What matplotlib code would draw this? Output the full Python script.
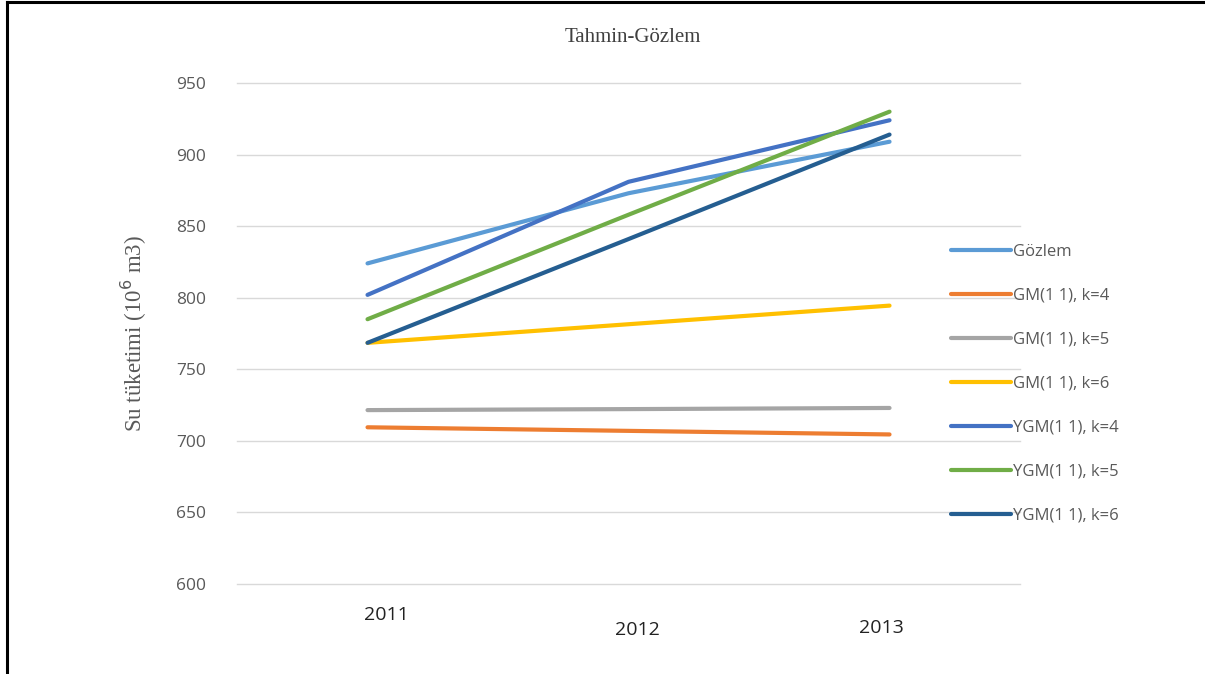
import matplotlib
matplotlib.use("Agg")
import matplotlib.pyplot as plt
from matplotlib.lines import Line2D

years = ["2011", "2012", "2013"]
series_names = ["Gözlem", "GM(1 1), k=4", "GM(1 1), k=5", "GM(1 1), k=6",
                "YGM(1 1), k=4", "YGM(1 1), k=5", "YGM(1 1), k=6"]
gozlem = [824, 873, 909]
gm_k4 = [709.5, 707, 704.5]
gm_k5 = [721.5, 722.2, 723]
gm_k6 = [768.5, 781.5, 794.5]
ygm_k4 = [802, 881, 924]
ygm_k5 = [785, 858, 930]
ygm_k6 = [768.5, 841, 914]
colors = ["#5B9BD5", "#ED7D31", "#A5A5A5", "#FFC000", "#4472C4", "#70AD47", "#255E91"]
yticks = [600, 650, 700, 750, 800, 850, 900, 950]

W, H = 1205, 674
fig = plt.figure(figsize=(W / 100, H / 100), dpi=100)
ax = fig.add_axes([0.1967, 0.1335, 0.6498, 0.7433])

x = range(len(years))
all_series = [gozlem, gm_k4, gm_k5, gm_k6, ygm_k4, ygm_k5, ygm_k6]
for vals, c, name in zip(all_series, colors, series_names):
    ax.plot(x, vals, color=c, lw=3.0, solid_capstyle="round", label=name, zorder=3)

ax.set_xlim(-0.5, 2.5)
ax.set_ylim(600, 950)
ax.set_yticks(yticks)
ax.set_yticklabels([str(v) for v in yticks], fontfamily="Open Sans", fontsize=12.5, color="#595959")
ax.grid(axis="y", color="#D9D9D9", lw=1.0, zorder=0)
for gl in ax.get_ygridlines():
    gl.set_clip_on(False)
for s in ax.spines.values():
    s.set_visible(False)
ax.tick_params(axis="both", length=0)
ax.tick_params(axis="y", pad=22)
ax.set_xticks([])

# category labels, slightly off-line as in the source (pixel positions)
label_px = [(386, 615), (637, 630), (881, 628)]
for lab, (px, py) in zip(years, label_px):
    fig.text(px / W, 1 - py / H, lab, fontsize=14, family="Open Sans",
             color="#222222", ha="center", va="center")

ax.set_ylabel("Su tüketimi (10$^6$ m3)", family="Liberation Serif", fontsize=16.5,
              color="#595959")
ax.yaxis.set_label_coords(-0.113, 0.5)

fig.text(633 / W, 1 - 38 / H, "Tahmin-Gözlem", family="Liberation Serif", fontsize=15,
         color="#404040", ha="center", va="center")

leg = fig.legend(loc="center left", bbox_to_anchor=(951 / W, 1 - 384 / H), frameon=False,
                 prop={"family": "Open Sans", "size": 12}, handlelength=3.6,
                 handletextpad=0.1, labelspacing=1.68, borderaxespad=0, borderpad=0)
for t in leg.get_texts():
    t.set_color("#595959")

# frame like the screenshot
fig.add_artist(Line2D([7 / W, 7 / W], [0, 1 - 2 / H], color="black", lw=2.2,
                      transform=fig.transFigure))
fig.add_artist(Line2D([7 / W, 1], [1 - 2 / H, 1 - 2 / H], color="black", lw=2.2,
                      transform=fig.transFigure))

fig.savefig("out.png", dpi=100)
